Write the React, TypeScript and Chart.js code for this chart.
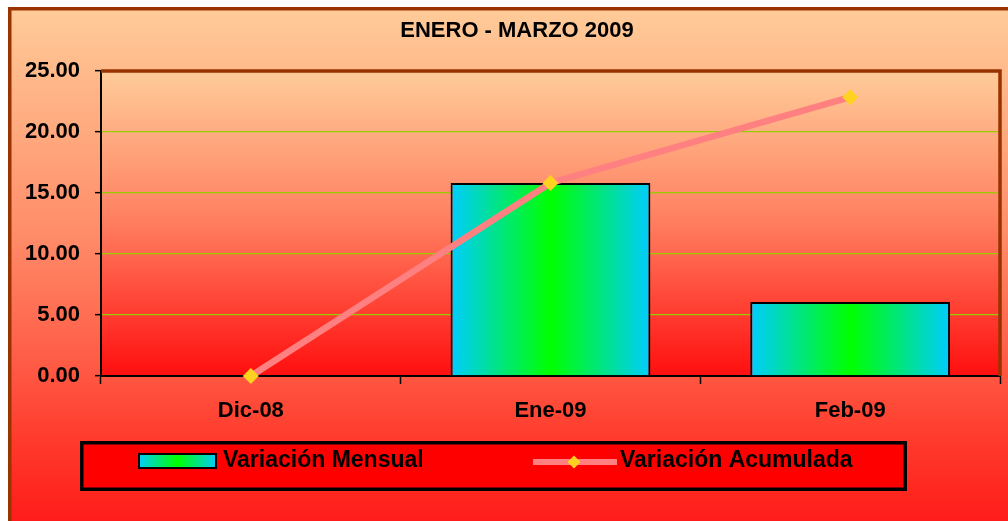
import React, { useEffect, useRef } from "react";
import { Chart, registerables } from "chart.js";

Chart.register(...registerables);

const TITLE = "ENERO - MARZO 2009";
const categories = ["Dic-08", "Ene-09", "Feb-09"];
const monthlyVariation = [0, 15.82, 6.07];
const cumulativeVariation = [0, 15.82, 22.85];
const seriesNames = ["Variación Mensual", "Variación Acumulada"];
const yTickValues = [0, 5, 10, 15, 20, 25];

const FONT = "'Liberation Sans', Arial, Helvetica, sans-serif";
const W = 1018;
const H = 530;
const BAR_PCT = 2 / 3;
const CYAN = "#00CCFF";
const GREEN = "#00FF00";
const LINE_COLOR = "#FF8080";
const MARKER_COLOR = "#FFD21F";
const BROWN = "#993300";
const GRID = "#99CC00";

function barFill(ctx: any) {
  const chart = ctx.chart;
  const xs = chart.scales && chart.scales.x;
  if (!xs || ctx.dataIndex === undefined || !isFinite(xs.width)) return CYAN;
  const c = xs.getPixelForValue(ctx.dataIndex);
  const half = ((xs.width / categories.length) * BAR_PCT) / 2;
  const g = chart.ctx.createLinearGradient(c - half, 0, c + half, 0);
  g.addColorStop(0, CYAN);
  g.addColorStop(0.5, GREEN);
  g.addColorStop(1, CYAN);
  return g;
}

const decor = {
  id: "decor",
  beforeDraw(chart: any) {
    const { ctx, width, height, chartArea: a } = chart;
    ctx.save();
    let g = ctx.createLinearGradient(0, 0, 0, height);
    g.addColorStop(0, "rgb(255,204,153)");
    g.addColorStop(0.43, "rgb(255,140,105)");
    g.addColorStop(0.7, "rgb(255,85,65)");
    g.addColorStop(0.81, "rgb(255,60,45)");
    g.addColorStop(1, "rgb(255,22,22)");
    ctx.fillStyle = g;
    ctx.fillRect(0, 0, width, height);

    g = ctx.createLinearGradient(0, a.top, 0, a.bottom);
    g.addColorStop(0, "rgb(255,204,153)");
    g.addColorStop(0.5, "rgb(255,125,95)");
    g.addColorStop(1, "rgb(255,15,15)");
    ctx.fillStyle = g;
    ctx.fillRect(a.left, a.top, a.right - a.left, a.bottom - a.top);

    ctx.strokeStyle = BROWN;
    ctx.lineWidth = 3.5;
    ctx.strokeRect(1.75, 1.75, width - 3.5, height - 3.5);

    ctx.fillStyle = "#000";
    ctx.font = `bold 22px ${FONT}`;
    ctx.textAlign = "center";
    ctx.textBaseline = "middle";
    ctx.fillText(TITLE, width / 2, 24);
    ctx.restore();
  },
  beforeDatasetsDraw(chart: any) {
    const { ctx, chartArea: a } = chart;
    ctx.save();
    ctx.strokeStyle = BROWN;
    ctx.lineWidth = 3.5;
    ctx.beginPath();
    ctx.moveTo(a.left, a.top);
    ctx.lineTo(a.right, a.top);
    ctx.lineTo(a.right, a.bottom);
    ctx.stroke();
    ctx.restore();
  },
  afterDraw(chart: any) {
    const { ctx } = chart;
    const ds = chart.data.datasets;
    ctx.save();
    ctx.fillStyle = "#FF0000";
    ctx.fillRect(72, 434, 827, 50);
    ctx.strokeStyle = "#000";
    ctx.lineWidth = 3.5;
    ctx.strokeRect(73.75, 435.75, 823.5, 46.5);

    const cy = 454;
    const g = ctx.createLinearGradient(130, 0, 209, 0);
    g.addColorStop(0, CYAN);
    g.addColorStop(0.5, GREEN);
    g.addColorStop(1, CYAN);
    ctx.fillStyle = g;
    ctx.fillRect(130, 446, 79, 16);
    ctx.strokeStyle = "#000";
    ctx.lineWidth = 2;
    ctx.strokeRect(131, 447, 77, 14);

    ctx.fillStyle = "#000";
    ctx.font = `bold 23px ${FONT}`;
    ctx.textAlign = "left";
    ctx.textBaseline = "middle";
    ctx.fillText(ds[0].label, 215, cy);

    ctx.strokeStyle = LINE_COLOR;
    ctx.lineWidth = 6;
    ctx.beginPath();
    ctx.moveTo(525, cy + 1);
    ctx.lineTo(609, cy + 1);
    ctx.stroke();
    ctx.fillStyle = MARKER_COLOR;
    ctx.beginPath();
    const mx = 566, my = cy + 1, r = 6.5;
    ctx.moveTo(mx - r, my);
    ctx.lineTo(mx, my - r);
    ctx.lineTo(mx + r, my);
    ctx.lineTo(mx, my + r);
    ctx.closePath();
    ctx.fill();

    ctx.fillStyle = "#000";
    ctx.fillText(ds[1].label, 612, cy);
    ctx.restore();
  },
};

export default function App() {
  const ref = useRef<HTMLCanvasElement | null>(null);

  useEffect(() => {
    document.documentElement.style.overflow = "hidden";
    document.body.style.overflow = "hidden";
    const canvas = ref.current;
    if (!canvas) return;
    const chart = new Chart(canvas, {
      type: "bar",
      data: {
        labels: categories,
        datasets: [
          {
            type: "bar",
            label: seriesNames[0],
            data: monthlyVariation,
            backgroundColor: barFill,
            borderColor: "#000",
            borderWidth: 2,
            barPercentage: BAR_PCT,
            categoryPercentage: 1,
            order: 2,
          } as any,
          {
            type: "line",
            label: seriesNames[1],
            data: cumulativeVariation,
            borderColor: LINE_COLOR,
            borderWidth: 6.5,
            pointStyle: "rectRot",
            pointRadius: 8,
            pointBackgroundColor: MARKER_COLOR,
            pointBorderColor: MARKER_COLOR,
            pointBorderWidth: 0,
            tension: 0,
            clip: false,
            order: 1,
          } as any,
        ],
      },
      options: {
        responsive: false,
        animation: false,
        devicePixelRatio: 1,
        layout: { padding: { left: 0, right: 26, top: 64, bottom: 101 } },
        plugins: {
          legend: { display: false },
          title: { display: false },
          tooltip: { enabled: false },
        },
        scales: {
          x: {
            type: "category",
            offset: true,
            grid: {
              offset: true,
              drawOnChartArea: false,
              drawTicks: true,
              tickLength: 8,
              tickColor: "#000",
              tickWidth: 1.5,
            },
            border: { display: true, color: "#000", width: 2 },
            ticks: {
              color: "#000",
              font: { family: FONT, size: 22, weight: "bold" },
              padding: 14,
              maxRotation: 0,
            },
            afterFit: (s: any) => {
              s.height = 60;
            },
          },
          y: {
            min: 0,
            max: 25,
            afterBuildTicks: (s: any) => {
              s.ticks = yTickValues.map((v) => ({ value: v }));
            },
            grid: {
              color: (c: any) =>
                c.tick && (c.tick.value === 0 || c.tick.value === 25) ? "rgba(0,0,0,0)" : GRID,
              lineWidth: 1.3,
              drawTicks: true,
              tickLength: 6,
              tickColor: "#000",
              tickWidth: 1.5,
            },
            border: { display: true, color: "#000", width: 2 },
            ticks: {
              color: "#000",
              font: { family: FONT, size: 22, weight: "bold" },
              padding: 15,
              callback: (v: any) => Number(v).toFixed(2),
            },
            afterFit: (s: any) => {
              s.width = 93;
            },
          },
        },
      },
      plugins: [decor],
    } as any);
    return () => chart.destroy();
  }, []);

  return (
    <canvas
      ref={ref}
      width={W}
      height={H}
      style={{ position: "absolute", left: 8, top: 7, width: W, height: H, display: "block" }}
    />
  );
}
